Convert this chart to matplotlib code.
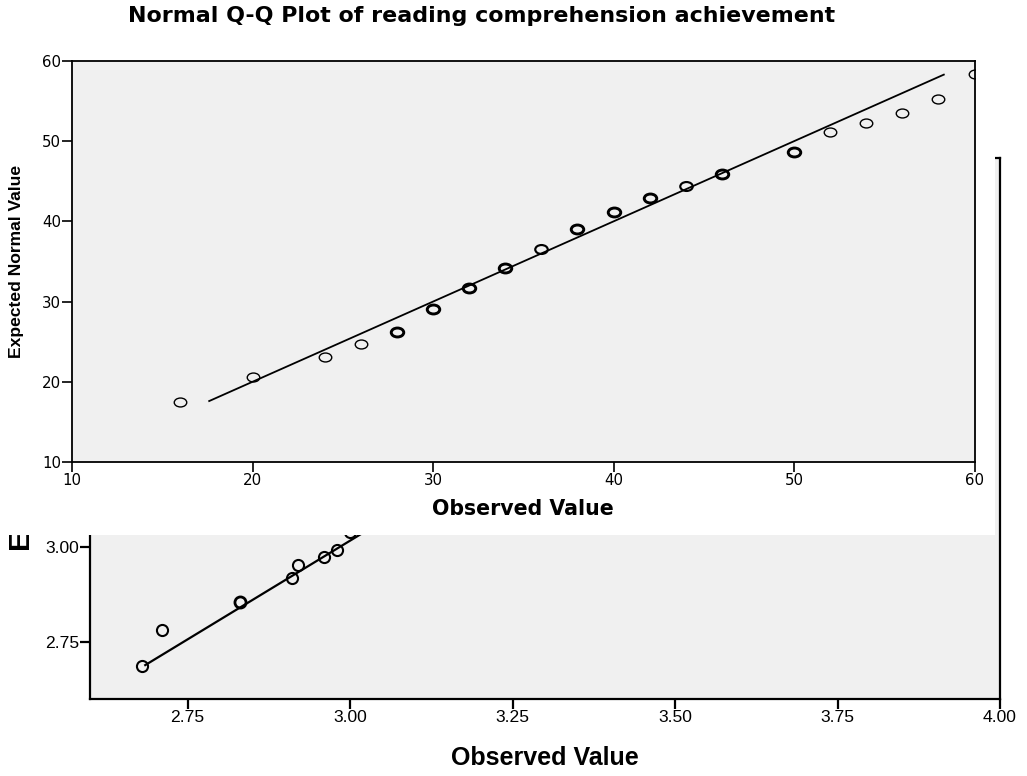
import numpy as np
import matplotlib
matplotlib.use("Agg")
import matplotlib.pyplot as plt
from matplotlib.path import Path
from matplotlib.patches import Rectangle

# top (front) chart: reading comprehension achievement
top_obs = [16, 20, 24, 26, 28, 30, 32, 34, 36, 38, 40, 42, 44, 46, 50, 52, 54, 56, 58, 60]
top_exp = [17.5, 20.6, 23.1, 24.7, 26.2, 29.1, 31.7, 34.2, 36.6, 39.05,
           41.2, 42.9, 44.4, 45.9, 48.65, 51.1, 52.3, 53.5, 55.3, 58.4]
top_freq = [1, 1, 1, 1, 3, 3, 3, 3, 2, 3, 3, 3, 2, 3, 3, 1, 1, 1, 1, 1]
top_line_x = [17.6, 58.3]
top_line_y = [17.6, 58.3]
top_ticks = [10, 20, 30, 40, 50, 60]

# back chart (mostly hidden under the front one)
bg_obs = [2.68, 2.71, 2.83, 2.91, 2.92, 2.96, 2.98, 3.00]
bg_exp = [2.687, 2.782, 2.855, 2.918, 2.953, 2.974, 2.992, 3.039]
bg_freq = [1, 1, 2, 1, 1, 1, 1, 1]
bg_line_x = [2.685, 3.95]
bg_line_y = [2.689, 4.0]
bg_xticks = [2.75, 3.00, 3.25, 3.50, 3.75, 4.00]
bg_yticks = [2.75, 3.00, 3.25, 3.50, 3.75, 4.00]

W, H = 1027, 776
fig = plt.figure(figsize=(W / 100, H / 100), dpi=100)
fig.patch.set_facecolor("white")

def px_rect(l, t, r, b):
    return [l / W, 1 - b / H, (r - l) / W, (b - t) / H]

face = "#f0f0f0"

# ---- back chart
ax_bg = fig.add_axes(px_rect(90, 158, 1000, 699), zorder=0)
ax_bg.set_facecolor(face)
for x, y, f in zip(bg_obs, bg_exp, bg_freq):
    ax_bg.plot(x, y, "o", ms=8, mfc="none", mec="black", mew=1.5 + 0.5 * (f - 1))
ax_bg.plot(bg_line_x, bg_line_y, color="black", lw=1.6)
ax_bg.set_xlim(2.6, 4.0)
ax_bg.set_ylim(2.6, 4.02)
ax_bg.set_xticks(bg_xticks)
ax_bg.set_yticks(bg_yticks)
ax_bg.set_xticklabels([f"{v:.2f}" for v in bg_xticks])
ax_bg.set_yticklabels([f"{v:.2f}" for v in bg_yticks])
for s in ["left", "bottom", "right", "top"]:
    ax_bg.spines[s].set_linewidth(1.6)
ax_bg.tick_params(direction="out", length=7, width=1.6, pad=1,
                  labelsize=12.6, labelfontfamily="Liberation Sans")
ax_bg.set_xlabel("Observed Value", fontsize=18, fontweight="bold",
                 family="Liberation Sans", labelpad=15)
# label of the back chart, only its first letter shows below the cover
fig.text(22 / W, 1 - 551 / H, "Expected Normal Value", rotation=90, ha="center", va="bottom",
         fontsize=21, fontweight="bold", family="Liberation Sans", zorder=0.5)

# ---- white cover sheet with the front chart
cover = Rectangle((0, 1 - 535 / H), 995 / W, 535 / H, transform=fig.transFigure,
                  facecolor="white", edgecolor="none", zorder=1)
fig.add_artist(cover)

ax = fig.add_axes(px_rect(72, 61, 974.5, 462), zorder=2)
ax.set_facecolor(face)
circ = Path.unit_circle()
ellipse = Path(circ.vertices * np.array([1.4, 1.0]), circ.codes)
for x, y, f in zip(top_obs, top_exp, top_freq):
    ax.plot(x, y, linestyle="none", marker=ellipse, ms=9, mfc="none", mec="black",
            mew=1.0 + 0.55 * (f - 1))
ax.plot(top_line_x, top_line_y, color="black", lw=1.3)
ax.set_xlim(10, 60)
ax.set_ylim(10, 60)
ax.set_xticks(top_ticks)
ax.set_yticks(top_ticks)
for s in ax.spines.values():
    s.set_linewidth(1.3)
ax.tick_params(direction="out", length=7, width=1.2, pad=1,
               labelsize=10.8, labelfontfamily="DejaVu Sans")
ax.set_xlabel("Observed Value", fontsize=14.8, fontweight="bold",
              family="DejaVu Sans", labelpad=8)
ax.set_ylabel("Expected Normal Value", fontsize=12.6, fontweight="bold",
              family="Liberation Sans", labelpad=13)
fig.text(482 / W, 1 - 16 / H, "Normal Q-Q Plot of reading comprehension achievement",
         ha="center", va="center", fontsize=15.9, fontweight="bold",
         family="DejaVu Sans", zorder=3)

fig.savefig("out.png", dpi=100)
